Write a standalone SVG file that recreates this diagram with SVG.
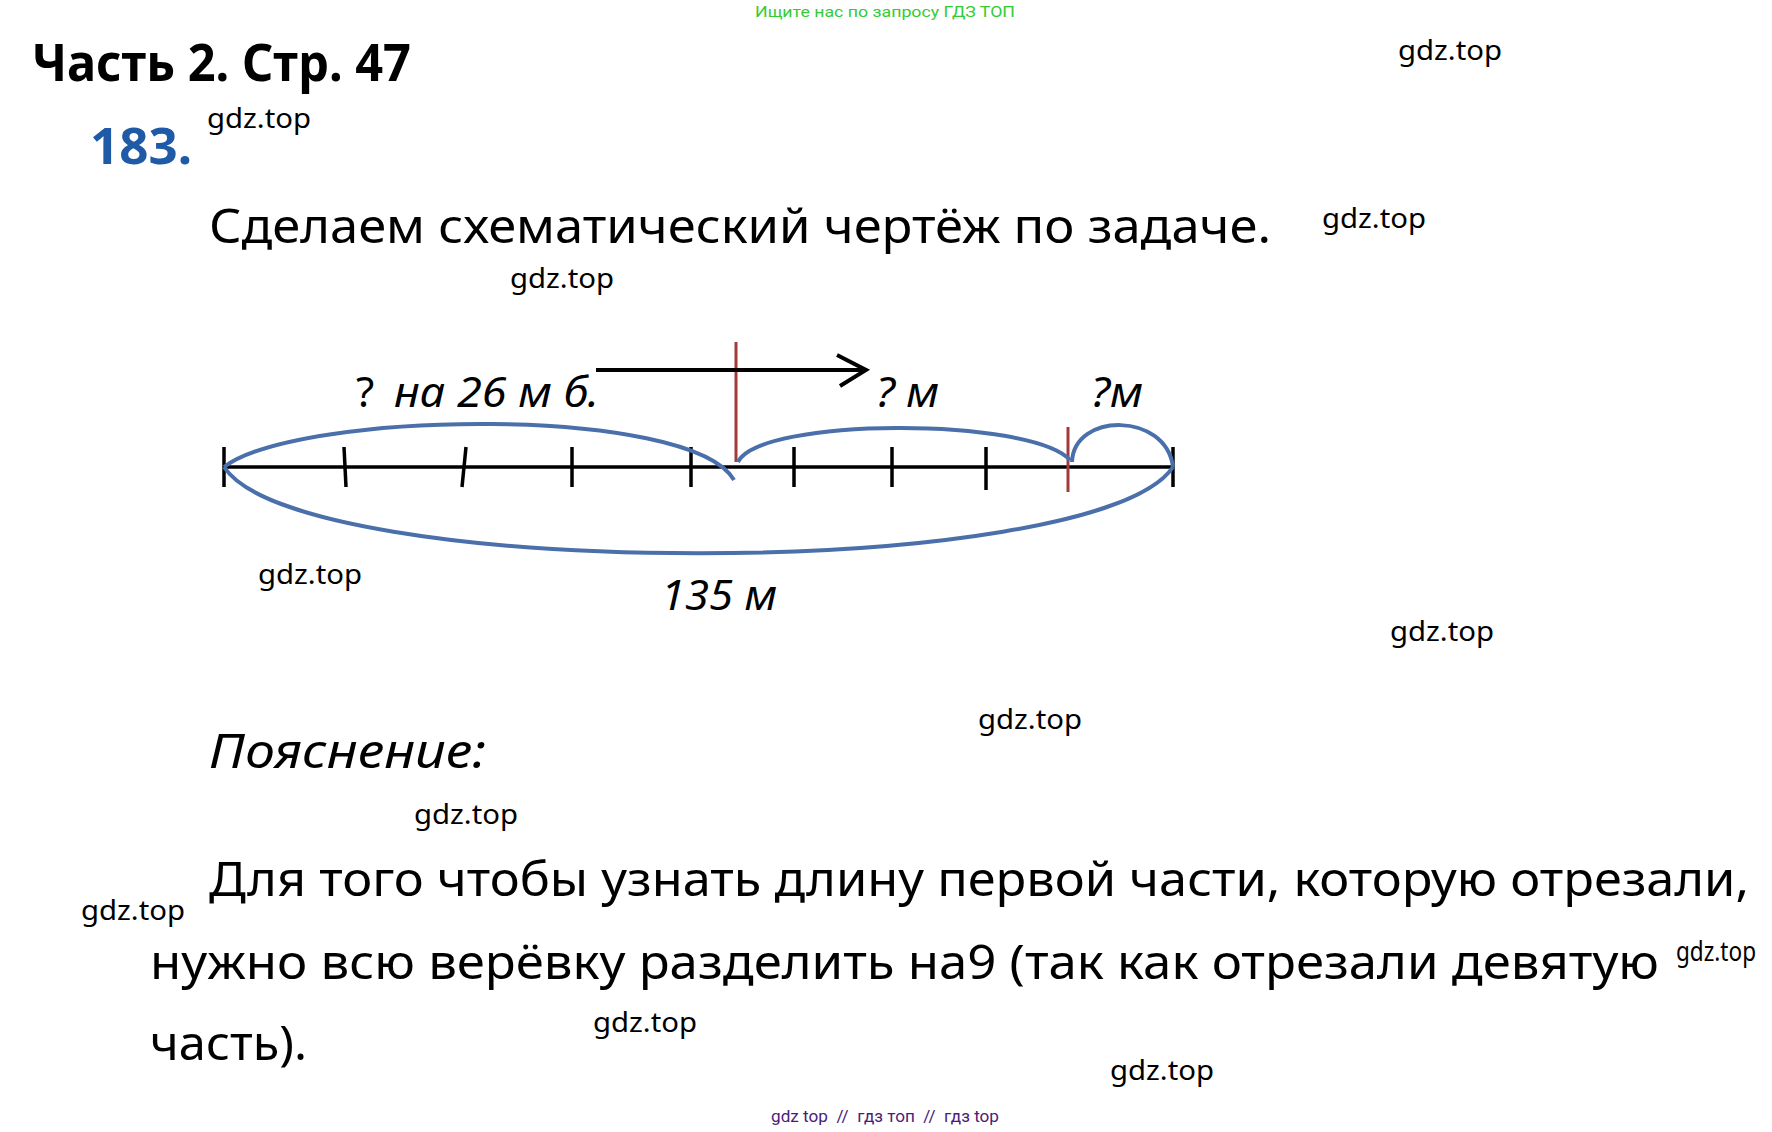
<svg xmlns="http://www.w3.org/2000/svg" width="1772" height="1132" viewBox="0 0 1772 1132">
<style>
.wm{font-family:"Noto Sans","Open Sans",sans-serif;font-size:28px;fill:#000}
.main{font-family:"Noto Sans","Open Sans",sans-serif;font-size:48px;fill:#000}
.lbl{font-family:"Noto Sans","Open Sans",sans-serif;font-size:42px;font-style:italic;fill:#000}
.tick{stroke:#000;stroke-width:3.5;fill:none}
.arc{stroke:#4A6FAA;stroke-width:4;fill:none}
.red{stroke:#A33A3A;stroke-width:3;fill:none}
</style>
<rect width="1772" height="1132" fill="#fff"/>
<text x="885" y="17" text-anchor="middle" font-family="Roboto,'Noto Sans',sans-serif" font-size="15" fill="#33cc33" textLength="260" lengthAdjust="spacingAndGlyphs">Ищите нас по запросу ГДЗ ТОП</text>
<text x="32" y="81" font-family="'Noto Sans','Open Sans',sans-serif" font-size="52" font-weight="bold" textLength="379" lengthAdjust="spacingAndGlyphs">Часть 2. Стр. 47</text>
<text x="90" y="164" font-family="'Noto Sans','Open Sans',sans-serif" font-size="50" font-weight="bold" fill="#1F5AA6" textLength="102" lengthAdjust="spacingAndGlyphs">183.</text>
<text class="main" x="209" y="243" textLength="1062" lengthAdjust="spacingAndGlyphs">Сделаем схематический чертёж по задаче.</text>
<g id="diagram">
<g id="connectors">
<line class="tick" x1="224" y1="467" x2="1173" y2="467"/>
<line class="tick" x1="224" y1="447" x2="224" y2="487"/>
<line class="tick" x1="344" y1="447" x2="346" y2="487"/>
<line class="tick" x1="466" y1="447" x2="462" y2="487"/>
<line class="tick" x1="572" y1="447" x2="572" y2="487"/>
<line class="tick" x1="691" y1="447" x2="691" y2="487"/>
<line class="tick" x1="794" y1="447" x2="794" y2="487"/>
<line class="tick" x1="892" y1="447" x2="892" y2="487"/>
<line class="tick" x1="986" y1="447" x2="986" y2="490"/>
<line class="tick" x1="1173" y1="447" x2="1173" y2="487"/>
<line class="red" x1="736" y1="342" x2="736" y2="462"/>
<line class="red" x1="1068" y1="427" x2="1068" y2="492"/>
<path class="arc" d="M224,467 C300,410 690,405 734,480"/>
<path class="arc" d="M738,462 C760,417 1030,417 1070,460"/>
<path class="arc" d="M1072,462 C1074,412 1166,412 1173,467"/>
<path class="arc" d="M224,467 C300,582 1096,582 1173,467"/>
<line x1="596" y1="370" x2="866" y2="370" stroke="#000" stroke-width="4"/>
<polyline points="837,355 866,370 840,386" fill="none" stroke="#000" stroke-width="4"/>
</g>
<text class="lbl" x="356" y="407"><tspan font-style="normal">?</tspan><tspan x="394" textLength="205" lengthAdjust="spacingAndGlyphs">на 26 м б.</tspan></text>
<text class="lbl" x="876" y="407" textLength="63" lengthAdjust="spacingAndGlyphs">? м</text>
<text class="lbl" x="1091" y="407" textLength="52" lengthAdjust="spacingAndGlyphs">?м</text>
<text class="lbl" x="661" y="610" textLength="116" lengthAdjust="spacingAndGlyphs">135 м</text>
</g>
<text x="209" y="768" font-family="'Noto Sans','Open Sans',sans-serif" font-size="48" font-style="italic" textLength="277" lengthAdjust="spacingAndGlyphs">Пояснение:</text>
<text class="main" x="209" y="896" textLength="1540" lengthAdjust="spacingAndGlyphs">Для того чтобы узнать длину первой части, которую отрезали,</text>
<text class="main" x="150" y="979" textLength="1509" lengthAdjust="spacingAndGlyphs">нужно всю верёвку разделить на9 (так как отрезали девятую</text>
<text class="main" x="150" y="1060" textLength="157" lengthAdjust="spacingAndGlyphs">часть).</text>
<g id="watermarks">
<text class="wm" x="1398" y="60" textLength="104" lengthAdjust="spacingAndGlyphs">gdz.top</text>
<text class="wm" x="207" y="128" textLength="104" lengthAdjust="spacingAndGlyphs">gdz.top</text>
<text class="wm" x="1322" y="228" textLength="104" lengthAdjust="spacingAndGlyphs">gdz.top</text>
<text class="wm" x="510" y="288" textLength="104" lengthAdjust="spacingAndGlyphs">gdz.top</text>
<text class="wm" x="258" y="584" textLength="104" lengthAdjust="spacingAndGlyphs">gdz.top</text>
<text class="wm" x="1390" y="641" textLength="104" lengthAdjust="spacingAndGlyphs">gdz.top</text>
<text class="wm" x="978" y="729" textLength="104" lengthAdjust="spacingAndGlyphs">gdz.top</text>
<text class="wm" x="414" y="824" textLength="104" lengthAdjust="spacingAndGlyphs">gdz.top</text>
<text class="wm" x="81" y="920" textLength="104" lengthAdjust="spacingAndGlyphs">gdz.top</text>
<text class="wm" x="1676" y="961" font-size="20" textLength="80" lengthAdjust="spacingAndGlyphs">gdz.top</text>
<text class="wm" x="593" y="1032" textLength="104" lengthAdjust="spacingAndGlyphs">gdz.top</text>
<text class="wm" x="1110" y="1080" textLength="104" lengthAdjust="spacingAndGlyphs">gdz.top</text>
</g>
<text x="885" y="1122" text-anchor="middle" font-family="Roboto,'Noto Sans',sans-serif" font-size="17" fill="#4B1C7A" xml:space="preserve" textLength="228" lengthAdjust="spacingAndGlyphs">gdz top  //  гдз топ  //  гдз top</text>
</svg>
